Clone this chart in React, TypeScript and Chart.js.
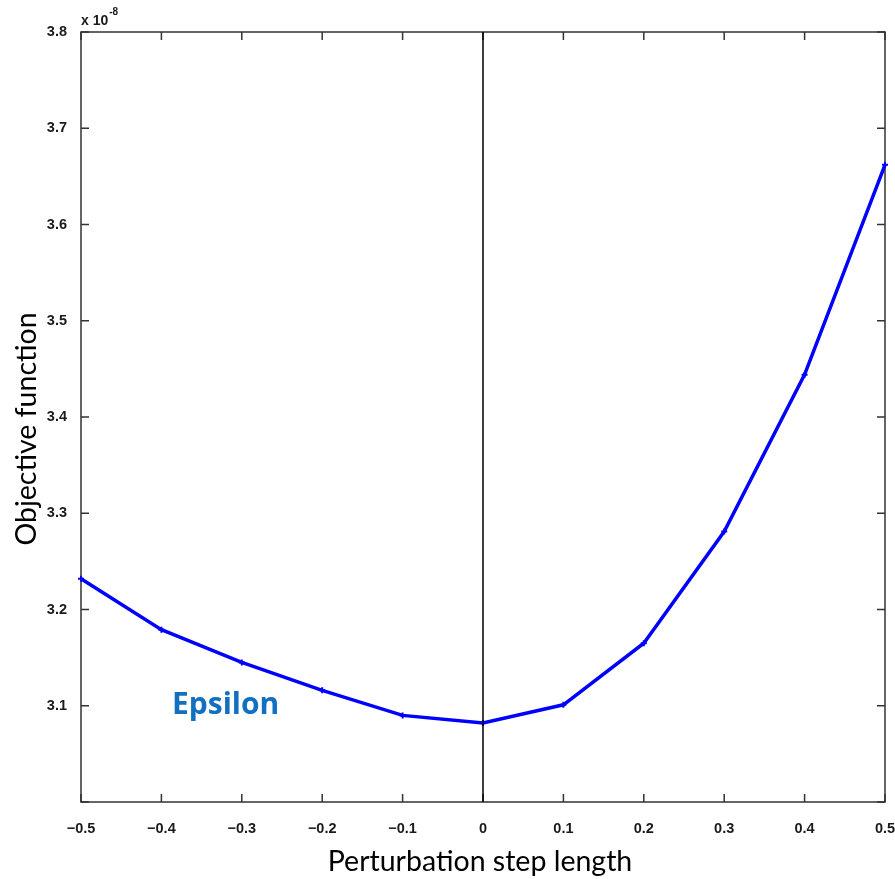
import React, { useEffect, useRef } from "react";
import { Chart, registerables } from "chart.js";

Chart.register(...registerables);

// Perturbation step lengths and the objective function (in units of 1e-8)
const stepLengths = [-0.5, -0.4, -0.3, -0.2, -0.1, 0, 0.1, 0.2, 0.3, 0.4, 0.5];
const objectiveValues = [3.232, 3.179, 3.145, 3.116, 3.090, 3.082, 3.101, 3.165, 3.281, 3.444, 3.662];

const xTitle = "Perturbation step length";
const yTitle = "Objective function";
const seriesLabel = "Epsilon";
const exponentBase = "x 10";
const exponentPower = "-8";

const xMin = -0.5;
const xMax = 0.5;
const yMin = 3.0;
const yMax = 3.8;
const tickStep = 0.1;

const tickFont = "'Liberation Sans', Arial, sans-serif";
const titleFont = "Lato, 'Open Sans', sans-serif";

const fmtTick = (v: number) => {
  const r = Math.round(v * 10) / 10;
  if (Math.abs(r) < 1e-9) return "0";
  const s = Math.abs(r).toFixed(1);
  return r < 0 ? "\u2212" + s : s;
};

const framePlugin = {
  id: "frame",
  beforeDatasetsDraw(chart: any) {
    const { ctx, chartArea: a, scales } = chart;
    ctx.save();
    ctx.strokeStyle = "#333";
    ctx.lineWidth = 1.5;
    ctx.strokeRect(a.left, a.top, a.right - a.left, a.bottom - a.top);
    const tl = 8;
    ctx.beginPath();
    for (const t of scales.x.ticks) {
      const px = scales.x.getPixelForValue(t.value);
      ctx.moveTo(px, a.bottom);
      ctx.lineTo(px, a.bottom - tl);
      ctx.moveTo(px, a.top);
      ctx.lineTo(px, a.top + tl);
    }
    for (const t of scales.y.ticks) {
      const py = scales.y.getPixelForValue(t.value);
      ctx.moveTo(a.left, py);
      ctx.lineTo(a.left + tl, py);
      ctx.moveTo(a.right, py);
      ctx.lineTo(a.right - tl, py);
    }
    ctx.stroke();
    ctx.restore();
  },
  afterDatasetsDraw(chart: any) {
    const { ctx, chartArea: a, scales } = chart;
    ctx.save();
    // vertical reference line at zero step
    const x0 = scales.x.getPixelForValue(0);
    ctx.strokeStyle = "#000";
    ctx.lineWidth = 1.5;
    ctx.beginPath();
    ctx.moveTo(x0, a.top);
    ctx.lineTo(x0, a.bottom);
    ctx.stroke();

    // exponent marker above the y axis
    ctx.fillStyle = "#1a1a1a";
    ctx.textBaseline = "alphabetic";
    ctx.textAlign = "left";
    ctx.font = `bold 14px ${tickFont}`;
    ctx.fillText(exponentBase, a.left, a.top - 7);
    const w = ctx.measureText(exponentBase).width;
    ctx.font = `bold 10px ${tickFont}`;
    ctx.fillText(exponentPower, a.left + w + 1, a.top - 17);

    // axis titles
    ctx.fillStyle = "#000";
    ctx.font = `28.5px ${titleFont}`;
    ctx.textAlign = "center";
    ctx.textBaseline = "alphabetic";
    ctx.fillText(xTitle, 480, 871);
    ctx.save();
    ctx.translate(36, 429);
    ctx.rotate(-Math.PI / 2);
    ctx.fillText(yTitle, 0, 0);
    ctx.restore();

    // series annotation
    ctx.fillStyle = "#1270c0";
    ctx.font = "bold 30px 'Open Sans', Lato, sans-serif";
    ctx.textAlign = "left";
    ctx.textBaseline = "alphabetic";
    ctx.fillText(seriesLabel, 172, 714);
    ctx.restore();
  },
};

export default function App() {
  const canvasRef = useRef<HTMLCanvasElement | null>(null);

  useEffect(() => {
    if (!canvasRef.current) return;
    const chart = new Chart(canvasRef.current, {
      type: "line",
      data: {
        datasets: [
          {
            label: seriesLabel,
            data: stepLengths.map((x, i) => ({ x, y: objectiveValues[i] })),
            borderColor: "#0000ff",
            backgroundColor: "#0000ff",
            borderWidth: 3.5,
            pointStyle: "cross",
            pointRadius: 3,
            pointBorderWidth: 2,
            tension: 0,
            clip: false as any,
          },
        ],
      },
      options: {
        animation: false,
        responsive: true,
        maintainAspectRatio: false,
        layout: { padding: { top: 32, right: 10, left: 0, bottom: 0 } },
        plugins: { legend: { display: false }, tooltip: { enabled: false } },
        scales: {
          x: {
            type: "linear",
            min: xMin,
            max: xMax,
            grid: { display: false },
            border: { display: false },
            ticks: {
              stepSize: tickStep,
              padding: 10,
              color: "#1a1a1a",
              font: { family: tickFont, size: 14.5, weight: "bold" },
              maxRotation: 0,
              autoSkip: false,
              callback: (v: any) => fmtTick(Number(v)),
            },
            afterFit: (s: any) => {
              s.height = 77;
              s.paddingLeft = 0;
              s.paddingRight = 0;
            },
          },
          y: {
            min: yMin,
            max: yMax,
            grid: { display: false },
            border: { display: false },
            ticks: {
              stepSize: tickStep,
              padding: 6,
              color: "#1a1a1a",
              font: { family: tickFont, size: 14.5, weight: "bold" },
              callback: (v: any) => (Number(v) < yMin + 0.05 ? "" : fmtTick(Number(v))),
            },
            afterFit: (s: any) => {
              s.width = 81;
              s.paddingTop = 0;
              s.paddingBottom = 0;
            },
          },
        },
      },
      plugins: [framePlugin],
    });
    return () => chart.destroy();
  }, []);

  return (
    <div style={{ position: "absolute", left: 0, top: 0, width: 895, height: 879, background: "#fff" }}>
      <canvas ref={canvasRef} />
    </div>
  );
}
